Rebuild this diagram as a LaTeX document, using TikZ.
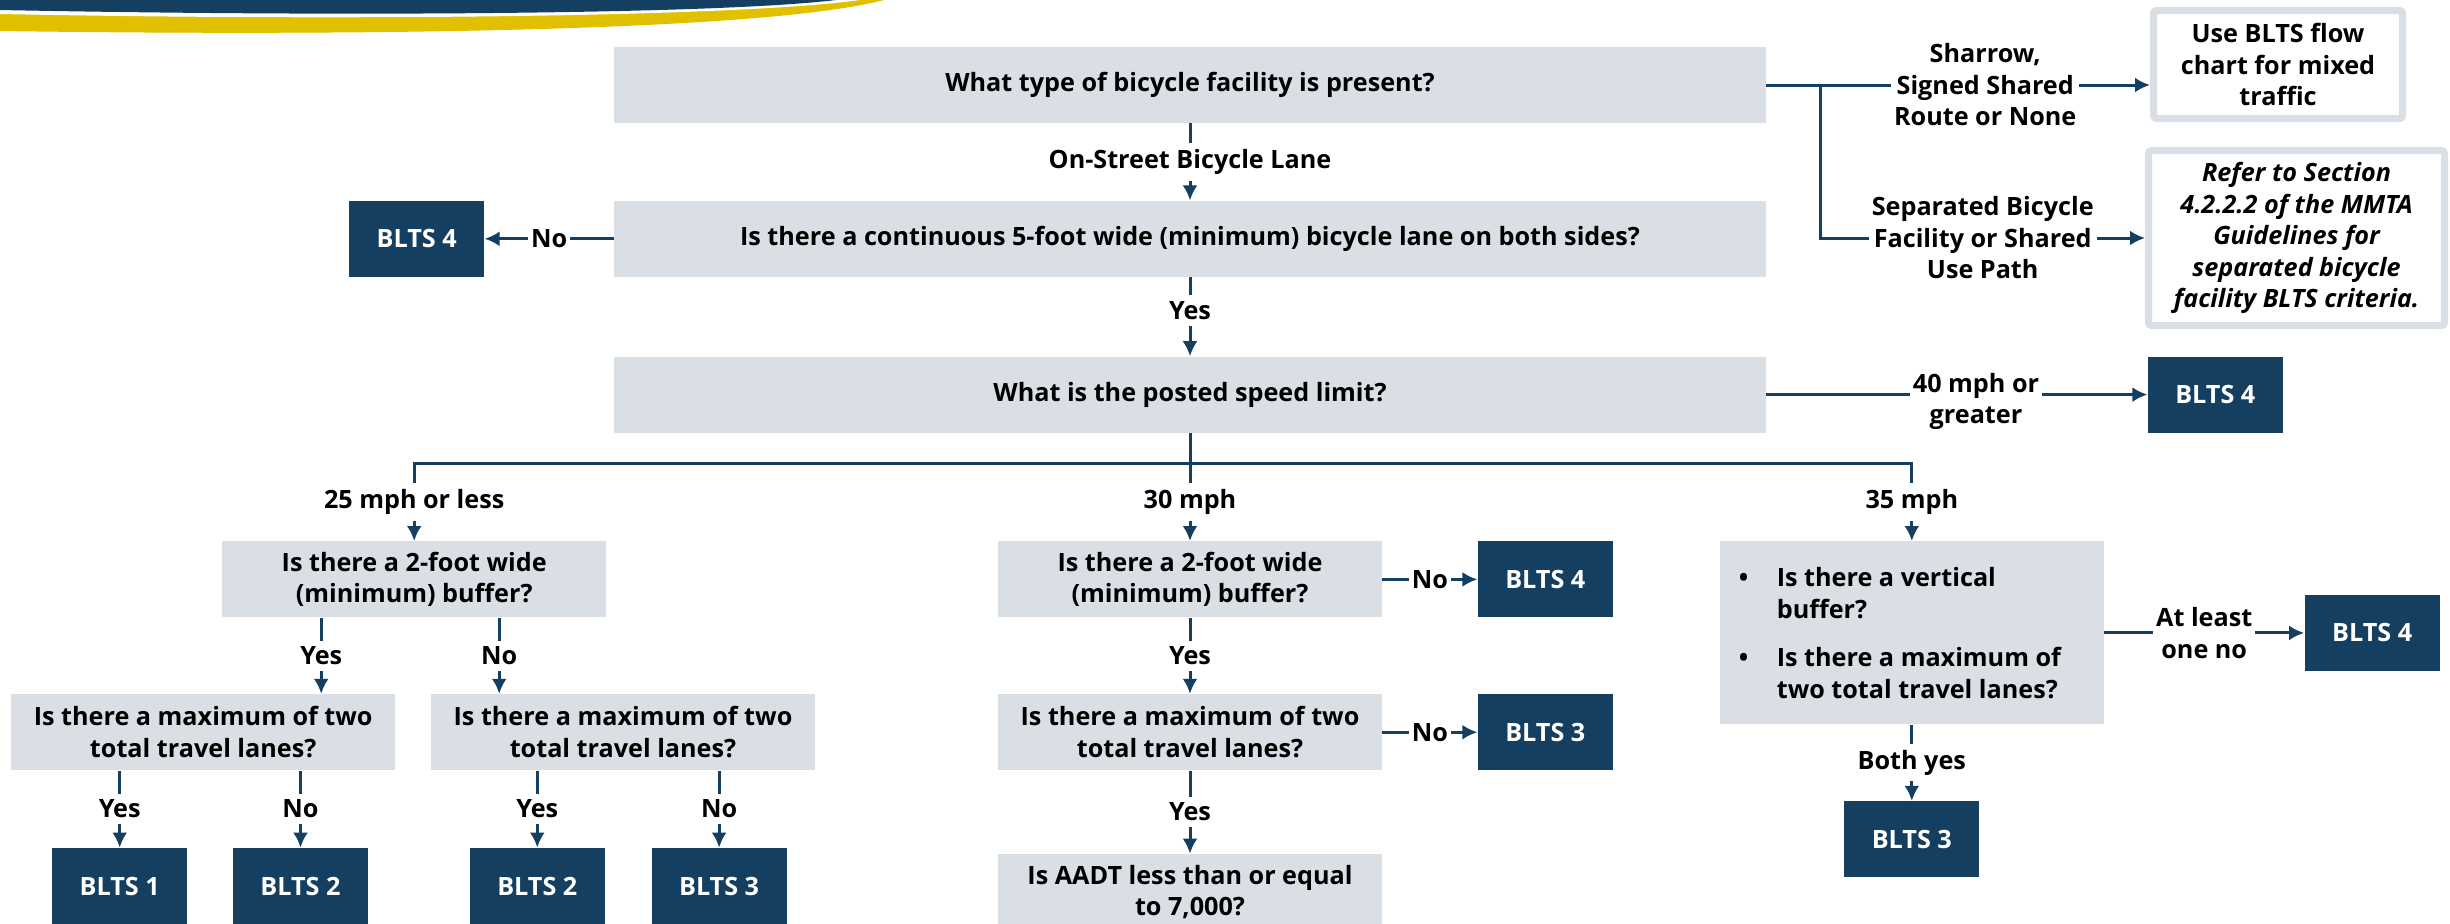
\documentclass[tikz,border=0pt]{standalone}
\usepackage{fontspec}
\setmainfont{Open Sans}
\usetikzlibrary{arrows.meta,positioning}

\definecolor{bltsblue}{HTML}{153F61}
\definecolor{qgray}{HTML}{D9DFE5}
\definecolor{bandgold}{HTML}{E0C000}

\begin{document}
\begin{tikzpicture}[
  x=0.5pt, y=-0.5pt,
  >={Latex[length=7.5pt,width=7.5pt]},
  every node/.style={font=\fontsize{12.6}{15.75}\selectfont\bfseries},
  question/.style={fill=qgray, align=center, inner sep=2pt, minimum height=38pt},
  wide/.style={question, minimum width=576pt},
  small/.style={question, minimum width=192pt},
  blts/.style={fill=bltsblue, text=white, minimum width=67.5pt, minimum height=38pt},
  note/.style={draw=qgray, line width=3.5pt, fill=white, rounded corners=1.5pt, align=center, inner sep=0pt},
  lbl/.style={fill=white, inner xsep=1.5pt, inner ysep=3pt, align=center},
  link/.style={draw=bltsblue, line width=1.5pt},
  ]
  \useasboundingbox (0,0) rectangle (2450,923);
  \clip (0,0) rectangle (2450,923);

  % banner
  \fill[bandgold] (0,0) -- (0,31) .. controls (350,36) and (760,32) .. (884,0) -- cycle;
  \fill[white] (0,0) -- (0,14) .. controls (350,21) and (740,17) .. (860,0) -- cycle;
  \fill[bltsblue] (0,0) -- (0,10) .. controls (350,17) and (720,14) .. (836,0) -- cycle;

  % main column
  \node[wide] (Q1) at (1190,85) {What type of bicycle facility is present?};
  \node[wide, below=38.5pt of Q1] (Q2) {Is there a continuous 5-foot wide (minimum) bicycle lane on both sides?};
  \node[wide, below=39.5pt of Q2] (Q3) {What is the posted speed limit?};
  \node[blts, left=64.5pt of Q2] (N0) {BLTS 4};
  \node[blts, right=190.5pt of Q3] (N40) {BLTS 4};

  \node[note, minimum width=124.5pt, minimum height=54pt] (Mixed) at (2278,64.5) {Use BLTS flow\\chart for mixed\\traffic};
  \node[note, minimum width=148pt, minimum height=87.5pt, font=\fontsize{12.6}{15.75}\selectfont\bfseries\itshape] (Sep) at (2296.5,238) {Refer to Section\\4.2.2.2 of the MMTA\\Guidelines for\\separated bicycle\\facility BLTS criteria.};

  \draw[link,->] (Q1) -- node[lbl]{On-Street Bicycle Lane} (Q2);
  \draw[link,->] (Q2) -- node[lbl]{No} (N0);
  \draw[link,->] (Q2) -- node[lbl,pos=0.42]{Yes} (Q3);
  \draw[link,->] (Q3) -- node[lbl,pos=0.55,yshift=-3.5pt]{40 mph or\\greater} (N40);

  \draw[link] (Q1.east) -- ++(54,0) coordinate (fork);
  \draw[link,->] (fork) -- node[lbl]{Sharrow,\\Signed Shared\\Route or None} (fork -| Mixed.west);
  \draw[link,->] (fork) |- node[lbl,pos=0.75]{Separated Bicycle\\Facility or Shared\\Use Path} (Sep.west);

  % speed branches
  \node[small, below=54pt of Q3] (B2) {Is there a 2-foot wide\\(minimum) buffer?};
  \node[small, left=195.5pt of B2] (B1) {Is there a 2-foot wide\\(minimum) buffer?};
  \node[small, right=168.5pt of B2.north east, anchor=north west, minimum height=91.5pt, inner sep=0pt] (B3) {\parbox{173pt}{\raggedright
    \hangindent=19pt\hangafter=1\makebox[19pt][l]{\textbullet}Is there a vertical\newline buffer?\par\vspace{8.5pt}
    \hangindent=19pt\hangafter=1\makebox[19pt][l]{\textbullet}Is there a maximum of\newline two total travel lanes?}};

  \draw[link] (Q3.south) -- ++(0,30) coordinate (bar);
  \draw[link,->] (bar) -| node[lbl,pos=0.75]{25 mph or less} (B1);
  \draw[link,->] (bar) -- node[lbl]{30 mph} (B2);
  \draw[link,->] (bar) -| node[lbl,pos=0.75]{35 mph} (B3);

  % 25 mph or less
  \node[small, below=38pt of B1, xshift=-105.5pt] (L1) {Is there a maximum of two\\total travel lanes?};
  \node[small, right=17.5pt of L1] (L2) {Is there a maximum of two\\total travel lanes?};
  \draw[link,->] ([xshift=-46.5pt]B1.south) -- node[lbl]{Yes} ([xshift=-46.5pt]B1.south |- L1.north);
  \draw[link,->] ([xshift=42.5pt]B1.south) -- node[lbl]{No} ([xshift=42.5pt]B1.south |- L2.north);

  \node[blts, below=38.5pt of L1, xshift=-41.75pt] (T1) {BLTS 1};
  \node[blts, right=22.5pt of T1] (T2) {BLTS 2};
  \node[blts, right=50.5pt of T2] (T3) {BLTS 2};
  \node[blts, right=23pt of T3] (T4) {BLTS 3};
  \draw[link,->] (L1.south -| T1) -- node[lbl]{Yes} (T1);
  \draw[link,->] (L1.south -| T2) -- node[lbl]{No} (T2);
  \draw[link,->] (L2.south -| T3) -- node[lbl]{Yes} (T3);
  \draw[link,->] (L2.south -| T4) -- node[lbl]{No} (T4);

  % 30 mph
  \node[blts, right=47.5pt of B2] (N30) {BLTS 4};
  \node[small, below=38pt of B2] (M2) {Is there a maximum of two\\total travel lanes?};
  \node[blts, right=47.5pt of M2] (N31) {BLTS 3};
  \node[small, below=41.5pt of M2] (M3) {Is AADT less than or equal\\to 7,000?};
  \draw[link,->] (B2) -- node[lbl]{No} (N30);
  \draw[link,->] (B2) -- node[lbl]{Yes} (M2);
  \draw[link,->] (M2) -- node[lbl]{No} (N31);
  \draw[link,->] (M2) -- node[lbl]{Yes} (M3);

  % 35 mph
  \node[blts, right=100pt of B3] (N35) {BLTS 4};
  \node[blts, below=38pt of B3] (N36) {BLTS 3};
  \draw[link,->] (B3) -- node[lbl]{At least\\one no} (N35);
  \draw[link,->] (B3) -- node[lbl]{Both yes} (N36);
\end{tikzpicture}
\end{document}
